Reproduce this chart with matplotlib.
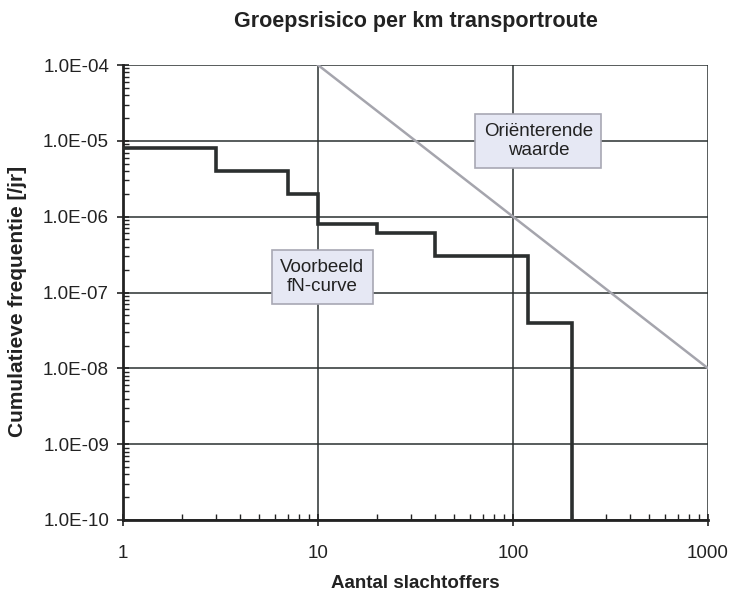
import matplotlib
matplotlib.use("Agg")
import matplotlib.pyplot as plt
from matplotlib.ticker import FixedLocator, LogLocator, NullFormatter

plt.rcParams['font.family'] = ['Liberation Sans', 'DejaVu Sans']

# fN-curve (step) data
fn_x = [1, 3, 7, 10, 20, 40, 120, 200]
fn_y = [8e-6, 4e-6, 2e-6, 8e-7, 6e-7, 3e-7, 4e-8, 1e-10]

# Orienterende waarde line
ref_x = [10, 1000]
ref_y = [1e-4, 1e-8]

x_ticks = [1, 10, 100, 1000]
x_labels = ["1", "10", "100", "1000"]
y_ticks = [1e-10, 1e-9, 1e-8, 1e-7, 1e-6, 1e-5, 1e-4]
y_labels = ["1.0E-10", "1.0E-09", "1.0E-08", "1.0E-07", "1.0E-06", "1.0E-05", "1.0E-04"]

fig = plt.figure(figsize=(7.29, 5.93), dpi=100)
ax = fig.add_axes([123/729, 1 - 520/593, (708-123)/729, (520-65)/593])
ax.set_xscale('log')
ax.set_yscale('log')
ax.set_xlim(1, 1000)
ax.set_ylim(1e-10, 1e-4)

# grid
for yv in y_ticks:
    ax.axhline(yv, color='#2a3030', lw=1.1, zorder=1)
for xv in x_ticks[1:]:
    ax.axvline(xv, color='#2a3030', lw=1.1, zorder=1)

# step curve: horizontal segments then drops
sx, sy = [], []
for i in range(len(fn_x) - 1):
    sx += [fn_x[i], fn_x[i+1]]
    sy += [fn_y[i], fn_y[i]]
sx.append(fn_x[-1])
sy.append(fn_y[-1])
ax.plot(sx, sy, color='#2b2f2f', lw=2.6, solid_joinstyle='miter', zorder=3)

ax.plot(ref_x, ref_y, color='#a5a5ad', lw=1.8, zorder=2)

box = dict(boxstyle='square,pad=0.45', facecolor='#e6e8f4', edgecolor='#a8a8b4', lw=1.2)
ax.text(135, 1.0e-5, "Oriënterende\nwaarde", ha='center', va='center', fontsize=13.5,
        color='#222222', bbox=box, zorder=5, linespacing=1.2)
ax.text(10.5, 1.6e-7, "Voorbeeld\nfN-curve", ha='center', va='center', fontsize=13.5,
        color='#222222', bbox=box, zorder=5, linespacing=1.2)

ax.xaxis.set_major_locator(FixedLocator(x_ticks))
ax.set_xticklabels(x_labels)
ax.xaxis.set_minor_locator(LogLocator(base=10, subs=range(2, 10)))
ax.xaxis.set_minor_formatter(NullFormatter())
ax.yaxis.set_major_locator(FixedLocator(y_ticks))
ax.set_yticklabels(y_labels)
ax.yaxis.set_minor_locator(LogLocator(base=10, subs=range(2, 10)))
ax.yaxis.set_minor_formatter(NullFormatter())

ax.tick_params(axis='both', which='major', direction='inout', length=8, width=1.2,
               labelsize=13.5, colors='#222222', pad=6)
ax.tick_params(axis='x', which='major', pad=14)
ax.tick_params(axis='both', which='minor', direction='in', length=4, width=1.0, color='#222222')

for s in ['top', 'right']:
    ax.spines[s].set_visible(False)
for s in ['left', 'bottom']:
    ax.spines[s].set_linewidth(2.0)
    ax.spines[s].set_color('#222222')

fig.text((123 + 708) / 2 / 729, 1 - 583 / 593, "Aantal slachtoffers", fontsize=13.5,
         fontweight='bold', color='#222222', ha='center', va='center')
fig.text(18 / 729, 1 - 301 / 593, "Cumulatieve frequentie [/jr]", fontsize=15,
         fontweight='bold', color='#222222', ha='center', va='center', rotation=90)
fig.text((123 + 708) / 2 / 729, 1 - 22 / 593, "Groepsrisico per km transportroute",
         fontsize=15.5, fontweight='bold', color='#222222', ha='center', va='center')

fig.savefig("out.png", dpi=100)
